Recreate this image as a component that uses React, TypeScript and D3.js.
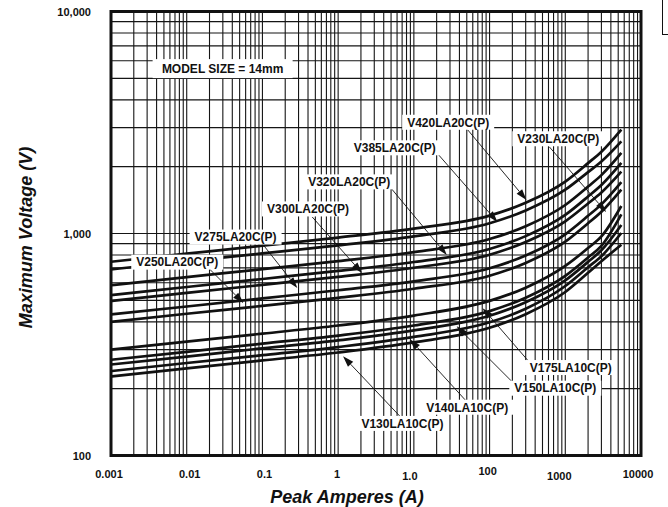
import React from "react";
import * as d3 from "d3";

// Peak current (A) at which each curve was read
const currents = [0.001, 0.01, 0.1, 1, 10, 100, 300, 1000, 2000, 3000, 5500];

// Maximum voltage (V) read for each curve
const v420 = [746, 811, 881, 958, 1052, 1204, 1375, 1713, 2075, 2336, 2940];
const v385 = [689, 749, 814, 884, 971, 1112, 1270, 1575, 1890, 2110, 2600];
const v320 = [585, 636, 691, 751, 825, 944, 1078, 1344, 1627, 1832, 2306];
const v300 = [528, 574, 624, 678, 744, 852, 973, 1213, 1468, 1654, 2081];
const v275 = [497, 540, 587, 638, 701, 802, 916, 1135, 1365, 1530, 1900];
const v250 = [432, 469, 510, 555, 609, 697, 796, 992, 1201, 1353, 1703];
const v230 = [400, 435, 472, 513, 564, 645, 737, 919, 1112, 1253, 1577];
const v175 = [300, 326, 354, 385, 427, 497, 570, 715, 860, 970, 1330];
const v150 = [270, 293, 319, 347, 385, 447, 514, 645, 780, 880, 1220];
const v140 = [257, 279, 304, 330, 366, 426, 490, 615, 745, 840, 1092];
const v130 = [240, 261, 283, 308, 342, 398, 458, 580, 705, 790, 1005];
const v120 = [227, 247, 268, 291, 323, 376, 433, 545, 665, 750, 890];

const curves = [v420, v385, v320, v300, v275, v250, v230, v175, v150, v140, v130, v120];

const xTicks = [0.001, 0.01, 0.1, 1, 10, 100, 1000, 10000];
const xTickLabels = ["0.001", "0.01", "0.1", "1", "1.0", "100", "1000", "10000"];
const yTicks = [100, 1000, 10000];
const yTickLabels = ["100", "1,000", "10,000"];

// Annotation labels: text, label centre (A, V), arrow start (A, V), arrow tip (A, V)
const labelTexts = ["V420LA20C(P)", "V385LA20C(P)", "V230LA20C(P)", "V320LA20C(P)", "V300LA20C(P)", "V275LA20C(P)", "V250LA20C(P)", "V175LA10C(P)", "V150LA10C(P)", "V140LA10C(P)", "V130LA10C(P)"];
const labelAt = [[28.4, 3170], [5.6, 2432], [809, 2671], [1.4, 1708], [0.4, 1290], [0.0442, 964], [0.0075, 743], [1181, 249], [738, 201], [50.6, 165], [7.06, 139.5]];
const arrowFrom = [[51.4, 2931], [20.1, 2309], [615, 2457], [4.83, 1622], [0.455, 1187], [0.103, 887], [0.0195, 698], [336, 263], [201, 214], [51.4, 173], [6.95, 147]];
const arrowTo = [[307, 1416], [127, 1127], [3459, 1250], [27.2, 800], [2.07, 663], [0.289, 568], [0.0562, 486], [80.9, 461], [36.8, 382], [8.85, 334], [1.16, 280]];
const modelText = "MODEL SIZE = 14mm";
const modelAt = [0.0298, 5530];

// layout / style
const W = 668;
const H = 507;
const M = { left: 111, right: 641, top: 11.5, bottom: 455.5 };
const FONT = "'Liberation Sans', Arial, Helvetica, sans-serif";
const xTickNudge = [[-2, 0], [3, 0], [2, 0], [-1, 0], [-4, 2], [-2, -3], [-6, 2], [-3, 0]];

export default function App() {
  const x = d3.scaleLog().domain([0.001, 10000]).range([M.left, M.right]);
  const y = d3.scaleLog().domain([100, 10000]).range([M.bottom, M.top]);

  const xGrid: number[] = [];
  for (let e = -3; e < 4; e++) for (let k = 1; k <= 9; k++) xGrid.push(k * Math.pow(10, e));
  const yGrid: number[] = [];
  for (let e = 2; e < 4; e++) for (let k = 1; k <= 9; k++) yGrid.push(k * Math.pow(10, e));

  const line = d3
    .line<number>()
    .x((_, i) => x(currents[i]))
    .y((d) => y(d))
    .curve(d3.curveMonotoneX);

  const labW = 84;
  const labH = 15;

  return (
    <svg width={W} height={H} style={{ position: "absolute", left: 0, top: 0, background: "#fff" }} fontFamily={FONT}>
      <rect x={0} y={0} width={W} height={H} fill="#fff" />
      {/* grid */}
      {xGrid.map((v, i) => (
        <line key={"gx" + i} x1={x(v)} x2={x(v)} y1={M.top} y2={M.bottom} stroke="#151515" strokeWidth={1.1} />
      ))}
      {yGrid.map((v, i) => (
        <line key={"gy" + i} x1={M.left} x2={M.right} y1={y(v)} y2={y(v)} stroke="#151515" strokeWidth={1.1} />
      ))}
      {/* curves */}
      {curves.map((c, i) => (
        <path key={"c" + i} d={line(c) || ""} fill="none" stroke="#111" strokeWidth={2.7} strokeLinejoin="round" />
      ))}
      {/* frame */}
      <rect x={M.left} y={M.top} width={M.right - M.left} height={M.bottom - M.top} fill="none" stroke="#111" strokeWidth={3} />
      {/* arrows */}
      {labelTexts.map((t, i) => {
        const x1 = x(arrowFrom[i][0]);
        const y1 = y(arrowFrom[i][1]);
        const x2 = x(arrowTo[i][0]);
        const y2 = y(arrowTo[i][1]);
        const a = Math.atan2(y2 - y1, x2 - x1);
        const L = 11;
        const Wd = 3.6;
        const bx = x2 - L * Math.cos(a);
        const by = y2 - L * Math.sin(a);
        const p1 = [bx + Wd * Math.sin(a), by - Wd * Math.cos(a)];
        const p2 = [bx - Wd * Math.sin(a), by + Wd * Math.cos(a)];
        return (
          <g key={"a" + i}>
            <line x1={x1} y1={y1} x2={bx} y2={by} stroke="#111" strokeWidth={0.9} />
            <path d={`M${x2},${y2}L${p1[0]},${p1[1]}L${p2[0]},${p2[1]}Z`} fill="#111" />
          </g>
        );
      })}
      {/* labels */}
      {labelTexts.map((t, i) => {
        const cx = x(labelAt[i][0]);
        const cy = y(labelAt[i][1]);
        return (
          <g key={"l" + i}>
            <rect x={cx - labW / 2 - 4} y={cy - labH / 2} width={labW + 8} height={labH} fill="#fff" />
            <text x={cx} y={cy + 4.3} textAnchor="middle" fontSize={12} fontWeight="bold" fill="#111">
              {t}
            </text>
          </g>
        );
      })}
      <g>
        <rect x={x(modelAt[0]) - 70} y={y(modelAt[1]) - 9.5} width={140} height={19} fill="#fff" />
        <text x={x(modelAt[0])} y={y(modelAt[1]) + 4.3} textAnchor="middle" fontSize={12} fontWeight="bold" fill="#111">
          {modelText}
        </text>
      </g>
      {/* tick labels */}
      {xTicks.map((v, i) => (
        <text key={"xt" + i} x={x(v) + xTickNudge[i][0]} y={478 + xTickNudge[i][1]} textAnchor="middle" fontSize={11} fontWeight="bold" fill="#111">
          {xTickLabels[i]}
        </text>
      ))}
      {yTicks.map((v, i) => (
        <text key={"yt" + i} x={91} y={y(v) + 4} textAnchor="end" fontSize={11} fontWeight="bold" fill="#111">
          {yTickLabels[i]}
        </text>
      ))}
      {/* axis titles */}
      <text x={347} y={503} textAnchor="middle" fontSize={18} fontWeight="bold" fontStyle="italic" fill="#111">
        Peak Amperes (A)
      </text>
      <text transform="translate(32,237.5) rotate(-90)" textAnchor="middle" fontSize={18} fontWeight="bold" fontStyle="italic" fill="#111">
        Maximum Voltage  (V)
      </text>
      {/* cut-off box at the top right */}
      <rect x={662.5} y={-5} width={20} height={39.5} fill="none" stroke="#111" strokeWidth={1} />
    </svg>
  );
}
